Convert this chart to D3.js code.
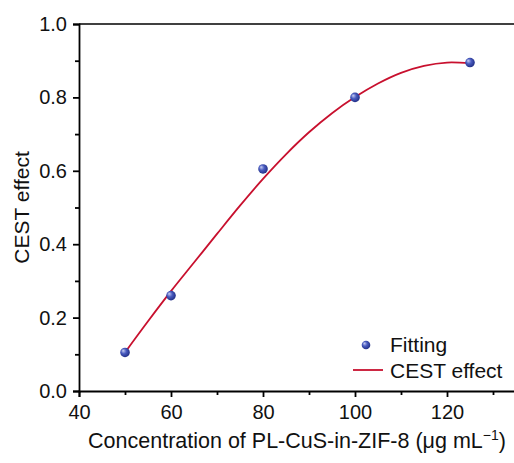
<!DOCTYPE html>
<html>
<head>
<meta charset="utf-8">
<script src="https://cdn.jsdelivr.net/npm/d3@7"></script>
<style>
  body { margin: 0; background: #fff; }
  text { font-family: Arial, "Liberation Sans", sans-serif; fill: #111; }
</style>
</head>
<body>
<svg id="chart-svg" width="514" height="463"></svg>
<script>
// measured points
const concentration = [50, 60, 80, 100, 125];
const cestEffect = [0.105, 0.26, 0.605, 0.80, 0.895];

// fitted curve
const fitX = [50, 55, 60, 65, 70, 75, 80, 85, 90, 95, 100, 105, 110, 115, 120, 125];
const fitY = [0.105, 0.19, 0.272, 0.35, 0.428, 0.505, 0.578, 0.645, 0.705, 0.757, 0.801, 0.838, 0.867, 0.886, 0.895, 0.893];

const xTicks = [40, 60, 80, 100, 120];
const yTicks = [0.0, 0.2, 0.4, 0.6, 0.8, 1.0];

const svg = d3.select("#chart-svg");

const margin = { left: 79, right: -2, top: 24, bottom: 72 };
const size = { x: 514, y: 463 };

const scale = {
    x: d3.scaleLinear([40, 135], [margin.left, size.x - margin.right]),
    y: d3.scaleLinear([0, 1], [size.y - margin.bottom, margin.top]),
};

const defs = svg.append("defs");
const grad = defs.append("radialGradient")
    .attr("id", "ball")
    .attr("cx", "45%").attr("cy", "45%").attr("r", "60%")
    .attr("fx", "30%").attr("fy", "30%");
grad.append("stop").attr("offset", "0%").attr("stop-color", "#c9cff2");
grad.append("stop").attr("offset", "45%").attr("stop-color", "#4a5cc0");
grad.append("stop").attr("offset", "100%").attr("stop-color", "#1d2a80");

// top border
svg.append("line")
    .attr("x1", scale.x(40)).attr("x2", scale.x(135))
    .attr("y1", scale.y(1)).attr("y2", scale.y(1))
    .attr("stroke", "#000").attr("stroke-width", 1.5);

// minor ticks
const axisX = svg.append("g")
    .attr("transform", `translate(0, ${scale.y(0)})`);
axisX.append("g")
    .call(d3.axisBottom(scale.x).tickValues([50, 70, 90, 110, 130]).tickSize(4).tickFormat(""))
    .call(g => g.select(".domain").remove());
axisX.append("g")
    .call(d3.axisBottom(scale.x).tickValues(xTicks).tickSize(6).tickPadding(8).tickFormat(d3.format("d")))
    .call(g => g.selectAll("text").attr("font-size", 20).attr("fill", "#111"));
axisX.selectAll("path.domain, line").attr("stroke", "#000").attr("stroke-width", 1.8);

const axisY = svg.append("g")
    .attr("transform", `translate(${scale.x(40)}, 0)`);
axisY.append("g")
    .call(d3.axisLeft(scale.y).tickValues([0.1, 0.3, 0.5, 0.7, 0.9]).tickSize(4).tickFormat(""))
    .call(g => g.select(".domain").remove());
axisY.append("g")
    .call(d3.axisLeft(scale.y).tickValues(yTicks).tickSize(6).tickPadding(6).tickFormat(d3.format(".1f")))
    .call(g => g.selectAll("text").attr("font-size", 20).attr("fill", "#111"));
axisY.selectAll("path.domain, line").attr("stroke", "#000").attr("stroke-width", 1.8);

// fit curve
const line = d3.line()
    .x((d, i) => scale.x(fitX[i]))
    .y(d => scale.y(d))
    .curve(d3.curveCatmullRom);
svg.append("path")
    .attr("d", line(fitY))
    .attr("fill", "none")
    .attr("stroke", "#c8102e")
    .attr("stroke-width", 1.8);

svg.selectAll("circle.dot")
    .data(cestEffect)
    .enter()
    .append("circle")
    .attr("class", "dot")
    .attr("cx", (d, i) => scale.x(concentration[i]))
    .attr("cy", d => scale.y(d))
    .attr("r", 4.8)
    .attr("fill", "url(#ball)");

// legend
const legend = svg.append("g").attr("id", "legend");
legend.append("circle")
    .attr("cx", 366).attr("cy", 345).attr("r", 4.3)
    .attr("fill", "url(#ball)");
legend.append("text")
    .attr("x", 390).attr("y", 352)
    .attr("font-size", 21)
    .text("Fitting");
legend.append("line")
    .attr("x1", 353).attr("x2", 383)
    .attr("y1", 370).attr("y2", 370)
    .attr("stroke", "#c8102e").attr("stroke-width", 1.8);
legend.append("text")
    .attr("x", 390).attr("y", 378)
    .attr("font-size", 21)
    .text("CEST effect");

// axis titles
const xTitle = svg.append("text")
    .attr("x", 297).attr("y", 448)
    .attr("text-anchor", "middle")
    .attr("font-size", 21.5);
xTitle.append("tspan").text("Concentration of PL-CuS-in-ZIF-8 (μg mL");
xTitle.append("tspan").attr("font-size", 14).attr("dy", -8).text("−1");
xTitle.append("tspan").attr("dy", 8).text(")");

svg.append("text")
    .attr("transform", `translate(29, ${(scale.y(0) + scale.y(1)) / 2}) rotate(-90)`)
    .attr("text-anchor", "middle")
    .attr("font-size", 21)
    .text("CEST effect");
</script>
</body>
</html>
